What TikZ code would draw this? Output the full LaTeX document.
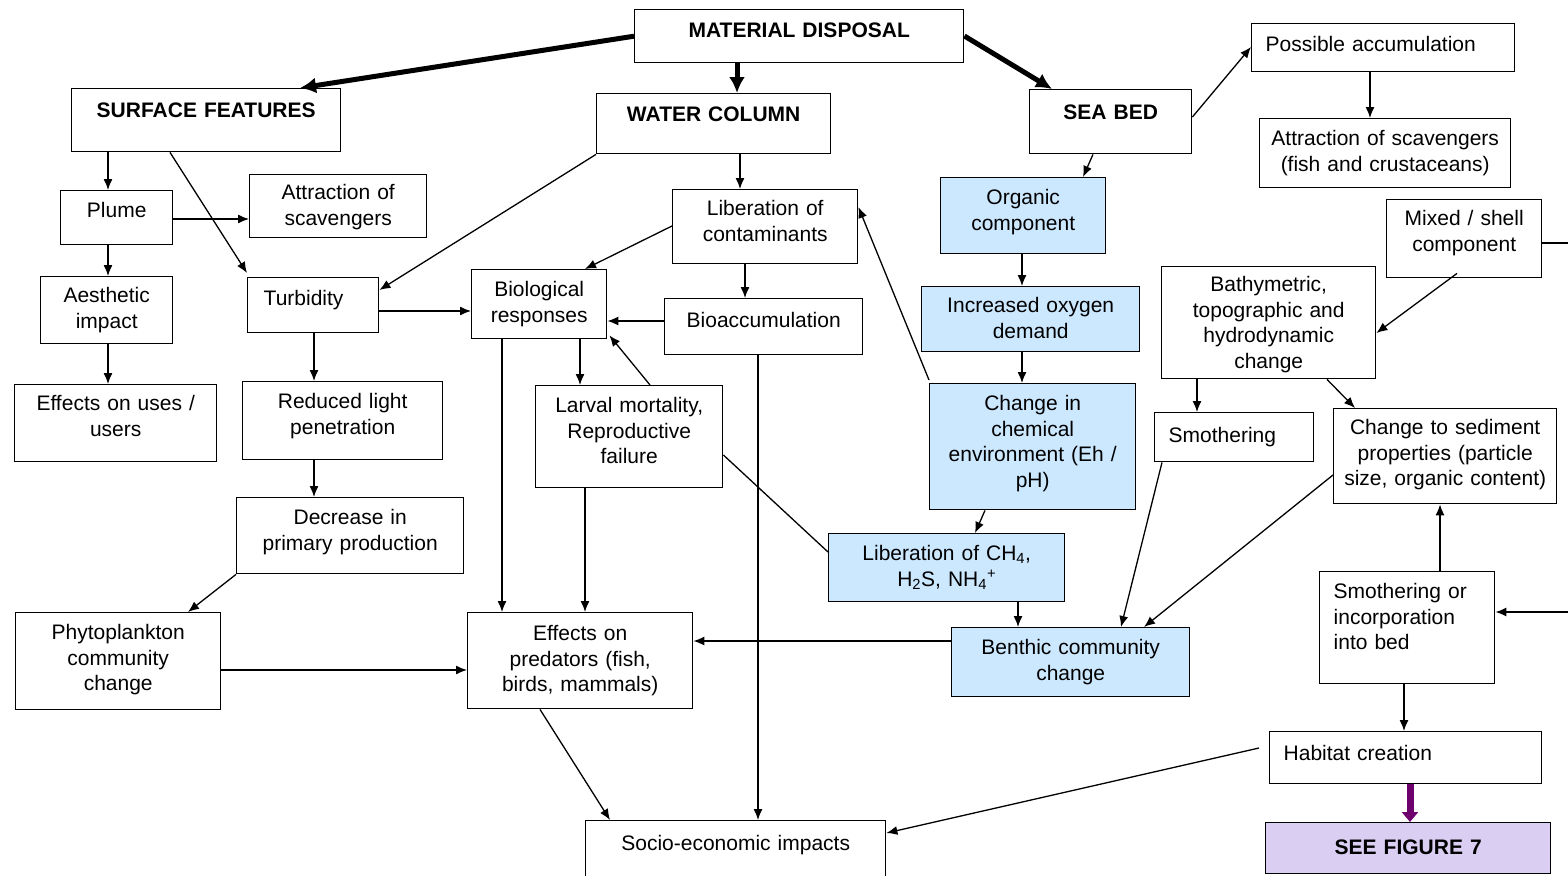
\documentclass[tikz,border=0pt]{standalone}
\usepackage{fontspec}
\setmainfont{Liberation Sans}
\usetikzlibrary{arrows.meta}
\definecolor{blu}{RGB}{204,232,255}
\definecolor{lav}{RGB}{218,206,242}
\definecolor{purp}{RGB}{110,0,110}
\newcommand\mkbox[8]{%
  \pgfmathsetmacro\bw{#4-#2}\pgfmathsetmacro\bd{#5-#3-#6}\pgfmathsetmacro\tw{#4-#2-6}%
  \node[box,text width=\tw pt,#7,minimum width=\bw pt,text height=#6pt,text depth=\bd pt,at={(#2,#3)}] (#1) {#8};}
\tikzset{
  box/.style={draw,line width=1.4pt,anchor=north west,inner xsep=3pt,inner ysep=0pt,align=center,
    font=\fontsize{21}{25.5}\selectfont},
  hd/.style={font=\fontsize{21}{25}\selectfont\bfseries},
  arr/.style={line width=1.3pt,-{Latex[length=11pt,width=9pt]}},
  big/.style={line width=5pt,-{Latex[length=16pt,width=16pt]}},
}
\begin{document}
\begin{tikzpicture}[x=1pt,y=-1pt]
\useasboundingbox (0,0) rectangle (1568,875);
\fill[white] (0,0) rectangle (1568,875);
% nodes
\mkbox{md}{634}{9}{963}{62}{28}{hd}{MATERIAL DISPOSAL}
\mkbox{surf}{71}{88}{340}{151}{29}{hd}{SURFACE FEATURES}
\mkbox{wc}{596}{93}{830}{153}{28}{hd}{WATER COLUMN}
\mkbox{sb}{1029}{89}{1191}{153}{30}{hd}{SEA BED}
\mkbox{posacc}{1251}{23}{1514}{71}{28}{align=left,inner xsep=14pt,text width=235pt}{Possible accumulation}
\mkbox{attrfish}{1259}{118}{1510}{187}{27}{}{Attraction of scavengers\\(fish and crustaceans)}
\mkbox{organic}{940}{177}{1105}{253}{27}{fill=blu}{Organic\\component}
\mkbox{plume}{60}{190}{172}{244}{27}{}{Plume}
\mkbox{attrL}{249}{174}{426}{237}{25}{}{Attraction of\\scavengers}
\mkbox{libcont}{672}{189}{857}{263}{26}{}{Liberation of\\contaminants}
\mkbox{mixed}{1386}{199}{1541}{277}{26}{}{Mixed / shell\\component}
\mkbox{aesth}{40}{276}{172}{343}{26}{}{Aesthetic\\impact}
\mkbox{turb}{247}{277}{378}{332}{28}{align=left,inner xsep=16pt,text width=99pt}{Turbidity}
\mkbox{bio}{471}{269}{606}{338}{27}{}{Biological\\responses}
\mkbox{bioacc}{664}{298}{862}{354}{29}{}{Bioaccumulation}
\mkbox{oxy}{921}{286}{1139}{351}{26}{fill=blu}{Increased oxygen\\demand}
\mkbox{bathy}{1161}{266}{1375}{378}{25}{}{Bathymetric,\\topographic and\\hydrodynamic\\change}
\mkbox{uses}{14}{384}{216}{461}{26}{}{Effects on uses /\\users}
\mkbox{light}{242}{381}{442}{459}{27}{}{Reduced light\\penetration}
\mkbox{larval}{535}{385}{722}{487}{27}{}{Larval mortality,\\Reproductive\\failure}
\mkbox{chem}{929}{383}{1135}{509}{27}{fill=blu}{Change in\\chemical\\environment (Eh /\\pH)}
\mkbox{smoth}{1154}{412}{1313}{461}{30}{align=left,inner xsep=14pt,text width=131pt}{Smothering}
\mkbox{sed}{1333}{408}{1556}{503}{26}{}{Change to sediment\\properties (particle\\size, organic content)}
\mkbox{decr}{236}{497}{463}{573}{27}{}{Decrease in\\primary production}
\mkbox{libch}{828}{533}{1064}{601}{27}{fill=blu}{Liberation of CH\textsubscript{4},\\H\textsubscript{2}S, NH\textsubscript{4}\textsuperscript{+}}
\mkbox{smothinc}{1319}{571}{1494}{683}{27}{align=left,inner xsep=14pt,text width=147pt}{Smothering or\\incorporation\\into bed}
\mkbox{phyto}{15}{612}{220}{709}{27}{}{Phytoplankton\\community\\change}
\mkbox{pred}{467}{612}{692}{708}{28}{}{Effects on\\predators (fish,\\birds, mammals)}
\mkbox{benth}{951}{627}{1189}{696}{27}{fill=blu}{Benthic community\\change}
\mkbox{habitat}{1269}{731}{1541}{783}{29}{align=left,inner xsep=14pt,text width=244pt}{Habitat creation}
\mkbox{socio}{585}{820}{885}{890}{30}{}{Socio-economic impacts}
\mkbox{see}{1265}{822}{1550}{873}{32}{hd,fill=lav}{SEE FIGURE 7}
\coordinate (edgeA) at (1569,243);
\coordinate (edgeB) at (1569,612);
% thick arrows
\draw[big] (md.west) -- ([xshift=229]surf.north west);
\draw[big] ([xshift=103]md.south west) -- ([xshift=141]wc.north west);
\draw[big] ([yshift=-27]md.north east) -- ([xshift=23]sb.north west);
% thin arrows
\draw[arr] ([yshift=-28]sb.north east) -- ([yshift=-24]posacc.north west);
\draw[arr] ([xshift=119]posacc.south west) -- ([xshift=111]attrfish.north west);
\draw[arr] ([xshift=64]sb.south west) -- ([xshift=143]organic.north west);
\draw[arr] ([xshift=82]organic.south west) -- ([xshift=101]oxy.north west);
\draw[arr] ([xshift=101]oxy.south west) -- ([xshift=93]chem.north west);
\draw[arr] ([xshift=56]chem.south west) -- ([xshift=147]libch.north west);
\draw[arr] ([xshift=190]libch.south west) -- ([xshift=67]benth.north west);
\draw[arr] ([yshift=3]chem.north west) -- ([yshift=-18]libcont.north east);
\draw[line width=1.3pt] ([yshift=-19]libch.north west) -- ([yshift=-70]larval.north east);
\draw[arr] ([yshift=-14]benth.north west) -- ([yshift=-29]pred.north east);
\draw[arr] ([xshift=8]smoth.south west) -- ([xshift=170]benth.north west);
\draw[arr] ([yshift=-67]sed.north west) -- ([xshift=193]benth.north west);
\draw[arr] ([xshift=36]bathy.south west) -- ([xshift=43]smoth.north west);
\draw[arr] ([xshift=166]bathy.south west) -- ([xshift=22]sed.north west);
\draw[arr] ([xshift=71,yshift=5]mixed.south west) -- ([yshift=-67]bathy.north east);
\draw[line width=1.3pt] ([yshift=-44]mixed.north east) -- (edgeA);
\draw[arr] (edgeB) -- ([yshift=-41]smothinc.north east);
\draw[arr] ([xshift=121]smothinc.north west) -- ([xshift=107]sed.south west);
\draw[arr] ([xshift=85]smothinc.south west) -- ([xshift=135]habitat.north west);
\draw[arr] ([xshift=-10,yshift=-17]habitat.north west) -- ([yshift=-13]socio.north east);
\draw[line width=7pt,purp,-{Triangle[length=10pt,width=16pt]}] ([xshift=141]habitat.south west) -- ([xshift=145]see.north west);
\draw[arr] ([xshift=73]pred.south west) -- ([xshift=25]socio.north west);
\draw[arr] ([xshift=94]bioacc.south west) -- ([xshift=173]socio.north west);
\draw[arr] ([yshift=-23]bioacc.north west) -- ([yshift=-52]bio.north east);
\draw[arr] ([xshift=73]libcont.south west) -- ([xshift=81]bioacc.north west);
\draw[arr] ([yshift=-37]libcont.north west) -- ([xshift=114]bio.north west);
\draw[arr] ([xshift=144]wc.south west) -- ([xshift=68]libcont.north west);
\draw[arr] (wc.south west) -- ([yshift=-13]turb.north east);
\draw[arr] ([xshift=37]surf.south west) -- ([xshift=48]plume.north west);
\draw[arr] ([xshift=99]surf.south west) -- ([yshift=4]turb.north west);
\draw[arr] ([yshift=-29]plume.north east) -- ([yshift=-45]attrL.north west);
\draw[arr] ([xshift=48]plume.south west) -- ([xshift=68]aesth.north west);
\draw[arr] ([xshift=68]aesth.south west) -- ([xshift=94]uses.north west);
\draw[arr] ([yshift=-34]turb.north east) -- ([yshift=-42]bio.north west);
\draw[arr] ([xshift=67]turb.south west) -- ([xshift=72]light.north west);
\draw[arr] ([xshift=72]light.south west) -- ([xshift=78]decr.north west);
\draw[arr] (decr.south west) -- ([xshift=173]phyto.north west);
\draw[arr] ([yshift=-58]phyto.north east) -- ([yshift=-58]pred.north west);
\draw[arr] ([xshift=31]bio.south west) -- ([xshift=35]pred.north west);
\draw[arr] ([xshift=109]bio.south west) -- ([xshift=45]larval.north west);
\draw[arr] ([xshift=115]larval.north west) -- ([xshift=2,yshift=4]bio.south east);
\draw[arr] ([xshift=50]larval.south west) -- ([xshift=118]pred.north west);
\end{tikzpicture}
\end{document}
